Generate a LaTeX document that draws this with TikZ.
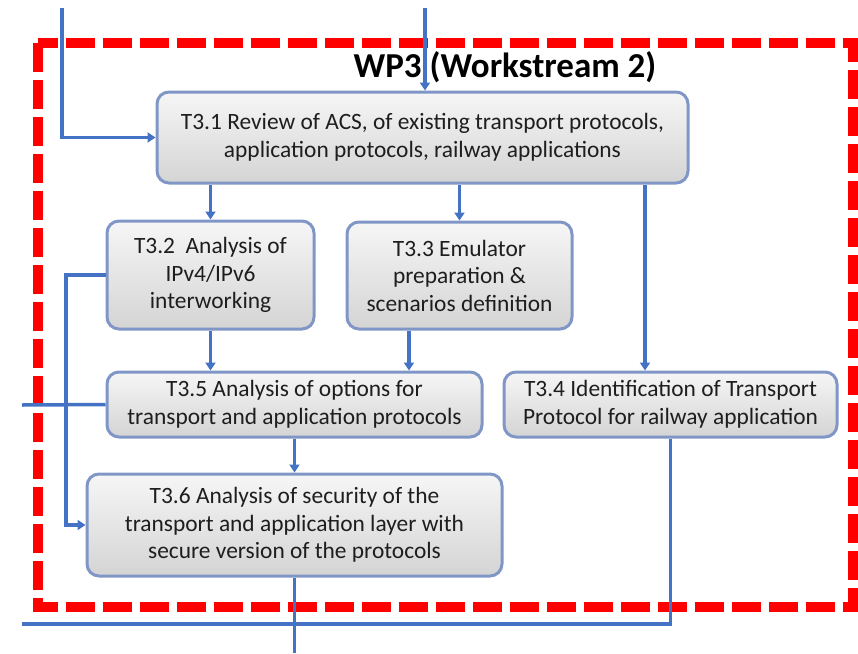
\documentclass[tikz,border=0pt]{standalone}
\usepackage{fontspec}
\setmainfont{Carlito}
\usetikzlibrary{arrows.meta}

\definecolor{flowblue}{RGB}{68,114,196}
\definecolor{boxedge}{RGB}{128,150,198}
\definecolor{boxtop}{RGB}{246,246,246}
\definecolor{boxbot}{RGB}{212,212,212}
\definecolor{boxtext}{RGB}{30,30,30}
\definecolor{wpred}{RGB}{255,0,0}

\tikzset{
  task/.style={draw=boxedge, line width=3pt, rounded corners=12pt,
    top color=boxtop, bottom color=boxbot, align=center, inner sep=0pt,
    text=boxtext, font=\fontsize{23.4}{27.5}\selectfont},
  flow/.style={draw=flowblue, line width=3.5pt},
  arr/.style={flow, -{Triangle[length=8pt,width=10pt]}},
  wpframe/.style={draw=wpred, line width=10pt, dash pattern=on 29pt off 8pt},
}

\begin{document}
\begin{tikzpicture}[x=1pt, y=-1pt]
  \useasboundingbox (0,0) rectangle (858,653);

  % work package frame and title
  \draw[wpframe] (38,43) rectangle (853,607);
  \node[font=\bfseries\fontsize{35}{38}\selectfont, anchor=base] (title) at (505,77) {WP3 (Workstream 2)};

  % tasks
  \node[task, minimum width=531pt, minimum height=91pt] (t31) at (422.5,137.5)
    {T3.1 Review of ACS, of existing transport protocols,\\application protocols, railway applications};
  \node[task, minimum width=207pt, minimum height=108pt] (t32) at (210.5,275)
    {T3.2\ \ Analysis of\\IPv4/IPv6\\interworking};
  \node[task, minimum width=225pt, minimum height=107pt] (t33) at (459.5,275.5)
    {T3.3 Emulator\\preparation \&\\scenarios definition};
  \node[task, minimum width=375pt, minimum height=65pt] (t35) at (294.5,404.5)
    {T3.5 Analysis of options for\\transport and application protocols};
  \node[task, minimum width=333pt, minimum height=65pt] (t34) at (670.5,404.5)
    {T3.4 Identification of Transport\\Protocol for railway application};
  \node[task, minimum width=415pt, minimum height=102pt] (t36) at (294.5,525)
    {T3.6 Analysis of security of the\\transport and application layer with\\secure version of the protocols};

  % free ends and routing points
  \coordinate (inA) at (62,8);
  \coordinate (inB) at (425,8);
  \coordinate (inC) at (22,405);
  \coordinate (outA) at (22,624);
  \coordinate (outB) at (294.5,653);
  \coordinate (x34) at (645,0);
  \coordinate (x33) at (409,0);
  \coordinate (xl) at (66,0);

  % connectors
  \draw[arr] (inA) |- (t31.west);
  \draw[arr] (inB) -- (inB |- t31.north);
  \draw[arr] (t32.north |- t31.south) -- (t32.north);
  \draw[arr] (t33.north |- t31.south) -- (t33.north);
  \draw[arr] (x34 |- t31.south) -- (x34 |- t34.north);
  \draw[arr] (t32.south) -- (t32.south |- t35.north);
  \draw[arr] (x33 |- t33.south) -- (x33 |- t35.north);
  \draw[arr] (t35.south) -- (t36.north);
  \draw[arr] (t32.west) -| (xl |- t36.west) -- (t36.west);
  \draw[flow] (inC) -- (t35.west);
  \draw[flow] (t34.south) |- (outA);
  \draw[flow] (t36.south) -- (outB);
\end{tikzpicture}
\end{document}
